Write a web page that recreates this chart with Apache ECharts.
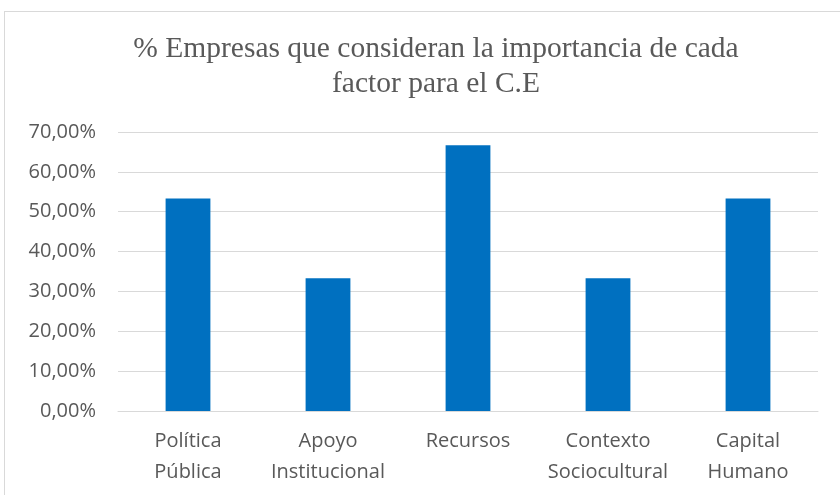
<!DOCTYPE html>
<html><head><meta charset="utf-8">
<script src="https://cdn.jsdelivr.net/npm/echarts@6/dist/echarts.min.js"></script>
<style>html,body{margin:0;padding:0;background:#fff}#c{width:840px;height:495px}
#frame{position:absolute;left:4px;top:11px;width:850px;height:500px;border:1px solid #d9d9d9;pointer-events:none}</style>
</head><body><div id="c"></div><div id="frame"></div>
<script>
const categories = ["Política\nPública", "Apoyo\nInstitucional", "Recursos", "Contexto\nSociocultural", "Capital\nHumano"];
const values = [53.33, 33.33, 66.67, 33.33, 53.33];
const titleText = "% Empresas que consideran la importancia de cada\nfactor para el C.E";
const chart = echarts.init(document.getElementById('c'));
chart.setOption({
  animation: false,
  title: { text: titleText, left: 431, top: 27, textAlign: 'center',
    textStyle: { fontFamily: 'Liberation Serif', fontSize: 29.5, fontWeight: 'normal', color: '#595959', lineHeight: 35 } },
  grid: { left: 118, right: 22, top: 132, bottom: 84 },
  xAxis: { type: 'category', data: categories,
    axisLine: { lineStyle: { color: '#d9d9d9', width: 1 } }, axisTick: { show: false },
    axisLabel: { interval: 0, hideOverlap: false, fontFamily: 'Open Sans', fontSize: 20, color: '#595959', lineHeight: 31, margin: 15 } },
  yAxis: { type: 'value', min: 0, max: 70, interval: 10,
    axisLine: { show: false }, axisTick: { show: false },
    splitLine: { lineStyle: { color: '#d9d9d9', width: 1 } },
    axisLabel: { fontFamily: 'Open Sans', fontSize: 20, color: '#595959', margin: 22,
      formatter: v => v.toFixed(2).replace('.', ',') + '%' } },
  series: [{ type: 'bar', data: values, barWidth: '32%', itemStyle: { color: '#0070C0' } }]
});
</script></body></html>
